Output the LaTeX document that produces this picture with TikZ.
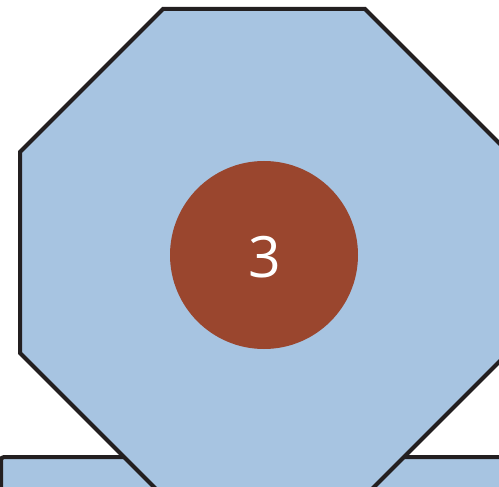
\documentclass[tikz,border=0pt]{standalone}
\usepackage{fontspec}
\setmainfont{Open Sans}
\definecolor{octfill}{HTML}{A7C4E1}
\definecolor{edge}{HTML}{231F20}
\definecolor{disc}{HTML}{9A462E}
\tikzset{
  plate/.style={fill=octfill, draw=edge, line width=4pt, line join=miter},
  badge/.style={circle, fill=disc, minimum size=188pt, inner sep=0pt},
  num/.style={text=white, font=\fontsize{57}{57}\selectfont, inner sep=0pt}
}
\begin{document}
\begin{tikzpicture}[x=1pt,y=-1pt]
\useasboundingbox (0,0) rectangle (499,487);
\clip (0,0) rectangle (499,487);
\fill[white] (0,0) rectangle (499,487);
\draw[plate, rounded corners=3pt] (1,600) -- (1,457) -- (600,457) -- (600,600) -- cycle;
\draw[plate] (163,9) -- (365,9) -- (508,152) -- (508,353) -- (365,496) -- (163,496) -- (20,353) -- (20,152) -- cycle;
\node[badge] (c) at (264,255) {};
\node[num] (t) at (264.5,257) {3};
\end{tikzpicture}
\end{document}
